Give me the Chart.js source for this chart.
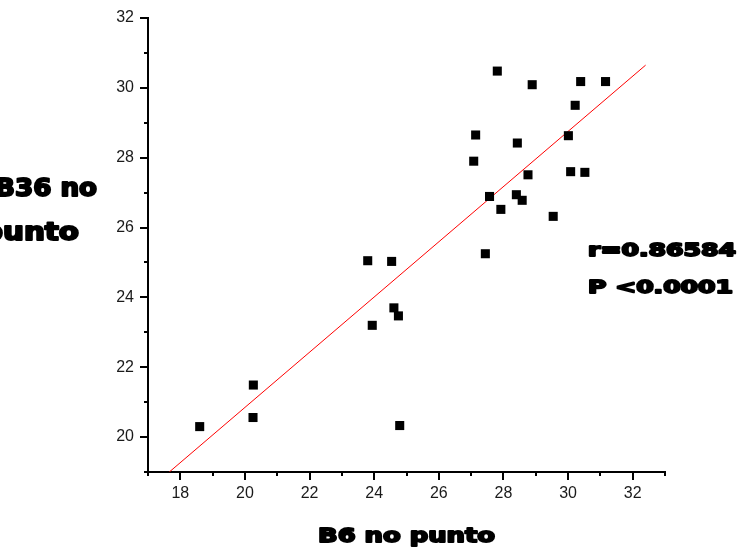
<!DOCTYPE html>
<html>
<head>
<meta charset="utf-8">
<script src="https://cdn.jsdelivr.net/npm/chart.js@4"></script>
<style>
  html, body { margin: 0; padding: 0; background: #fff; }
  canvas { display: block; }
</style>
</head>
<body>
<canvas id="grafico" width="744" height="557"></canvas>
<script>
// B6 vs B36, one square per sample
const b6 = [18.60, 20.26, 20.25, 23.80, 24.54, 23.94, 24.61, 24.75, 24.79, 27.44,
            27.81, 27.14, 27.08, 27.57, 27.92, 28.43, 28.40, 28.58, 28.76, 28.89,
            29.54, 30.01, 30.08, 30.22, 30.39, 30.52, 31.16];
const b36 = [20.30, 21.49, 20.56, 25.05, 25.03, 23.20, 23.70, 23.47, 20.33, 25.25,
             30.48, 28.65, 27.90, 26.89, 26.52, 28.42, 26.94, 26.78, 27.51, 30.09,
             26.32, 28.63, 27.60, 29.50, 30.18, 27.58, 30.18];

// linear fit, two ends
const fitX = [17.66, 32.40];
const fitY = [19.00, 30.65];

const xTickLabels = ['18', '20', '22', '24', '26', '28', '30', '32'];
const yTickLabels = ['20', '22', '24', '26', '28', '30', '32'];

const xTitle = 'B6 no punto';
const yTitle = ['B36 no', 'punto'];
const stats = ['r=0.86584', 'P <0.0001'];

const puntos = b6.map((x, i) => ({ x: x, y: b36[i] }));
const recta = fitX.map((x, i) => ({ x: x, y: fitY[i] }));

// heavy text stretched so that `part` (a tail of txt) takes `width` px,
// right end of the text at xr when align is 'right'
function textoAncho(ctx, txt, part, x, y, size, width, align, peso) {
    ctx.save();
    ctx.font = 'bold ' + size + 'px "DejaVu Sans"';
    ctx.textBaseline = 'alphabetic';
    ctx.textAlign = 'left';
    const sx = width / ctx.measureText(part).width;
    const w = ctx.measureText(txt).width * sx;
    let x0 = x;
    if (align === 'center') x0 = x - w / 2;
    if (align === 'right') x0 = x - w;
    ctx.translate(x0, y);
    ctx.scale(sx, 1);
    ctx.fillStyle = '#000';
    ctx.strokeStyle = '#000';
    ctx.lineWidth = peso;
    ctx.lineJoin = 'round';
    ctx.fillText(txt, 0, 0);
    ctx.strokeText(txt, 0, 0);
    ctx.restore();
}

// major ticks 8px, minor ticks 4px, outward
const marcas = {
    id: 'marcas',
    afterDraw(chart) {
        const ctx = chart.ctx;
        const a = chart.chartArea;
        ctx.save();
        ctx.strokeStyle = '#000';
        ctx.lineWidth = 2;
        chart.scales.x.ticks.forEach(t => {
            const px = Math.round(chart.scales.x.getPixelForValue(t.value));
            const len = xTickLabels.includes(String(t.value)) ? 8 : 4;
            ctx.beginPath();
            ctx.moveTo(px, a.bottom);
            ctx.lineTo(px, a.bottom + len);
            ctx.stroke();
        });
        chart.scales.y.ticks.forEach(t => {
            const py = Math.round(chart.scales.y.getPixelForValue(t.value));
            const len = yTickLabels.includes(String(t.value)) ? 8 : 4;
            ctx.beginPath();
            ctx.moveTo(a.left, py);
            ctx.lineTo(a.left - len, py);
            ctx.stroke();
        });
        ctx.restore();

        // axis titles and correlation text
        const cx = (a.left + a.right) / 2;
        textoAncho(ctx, xTitle, xTitle, cx, 542, 19, 177, 'center', 1.8);
        textoAncho(ctx, yTitle[0], '36 no', 97, 196, 24, 82, 'right', 2);
        textoAncho(ctx, yTitle[1], 'unto', 79, 240, 24, 76, 'right', 2);
        textoAncho(ctx, stats[0], stats[0], 588, 256, 17, 148, 'left', 1.8);
        textoAncho(ctx, stats[1], stats[1], 588, 293, 17, 145, 'left', 1.8);
    }
};

const ctx = document.getElementById('grafico').getContext('2d');
new Chart(ctx, {
    type: 'scatter',
    data: {
        datasets: [{
            label: 'B36',
            data: puntos,
            pointStyle: 'rect',
            pointRadius: 6.4,
            pointHoverRadius: 6.4,
            pointBorderWidth: 0,
            backgroundColor: '#000',
            borderColor: '#000'
        }, {
            type: 'line',
            label: 'ajuste',
            data: recta,
            borderColor: '#ff0000',
            borderWidth: 1,
            pointRadius: 0,
            fill: false,
            tension: 0
        }]
    },
    options: {
        responsive: false,
        animation: false,
        devicePixelRatio: 1,
        layout: { padding: { left: 0, top: 18, right: 79, bottom: 0 } },
        plugins: {
            legend: { display: false },
            tooltip: { enabled: false }
        },
        scales: {
            x: {
                type: 'linear',
                min: 17,
                max: 33,
                afterFit: s => { s.height = 85; },
                border: { display: true, color: '#000', width: 2 },
                grid: { display: true, drawOnChartArea: false, tickLength: 8, tickColor: 'transparent' },
                ticks: {
                    stepSize: 1,
                    padding: 4,
                    color: '#1a1a1a',
                    font: { family: '"Liberation Sans", Arial', size: 16 },
                    callback: v => xTickLabels.includes(String(v)) ? String(v) : ''
                }
            },
            y: {
                type: 'linear',
                min: 19,
                max: 32,
                afterFit: s => { s.width = 148; },
                border: { display: true, color: '#000', width: 2 },
                grid: { display: true, drawOnChartArea: false, tickLength: 8, tickColor: 'transparent' },
                ticks: {
                    stepSize: 1,
                    padding: 6,
                    color: '#1a1a1a',
                    font: { family: '"Liberation Sans", Arial', size: 16 },
                    callback: v => yTickLabels.includes(String(v)) ? String(v) : ''
                }
            }
        }
    },
    plugins: [marcas]
});
</script>
</body>
</html>
